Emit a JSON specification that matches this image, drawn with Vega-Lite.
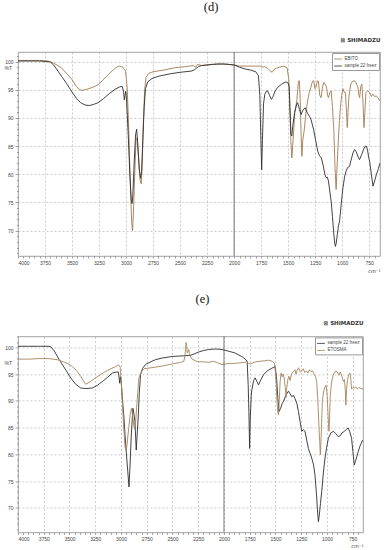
{
"$schema": "https://vega.github.io/schema/vega-lite/v6.json",
"background": "white",
"padding": {"left": 3, "top": 0, "right": 2, "bottom": 1},
"config": {"view": {"stroke": "#8a8a8a", "strokeWidth": 0.8}, "font": "Liberation Sans"},
"columns": 1, "align": "none", "bounds": "flush", "center": true, "spacing": 80.4,
"resolve": {"scale": {"color": "independent", "x": "independent", "y": "independent"}, "legend": {"color": "independent"}},
"datasets": {
"d": [
{"s":"EBITO","w":4000,"t":100.2},{"s":"EBITO","w":3900,"t":100.2},{"s":"EBITO","w":3800,"t":100.2},{"s":"EBITO","w":3720,"t":100.1},{"s":"EBITO","w":3680,"t":99.8},{"s":"EBITO","w":3640,"t":99.4},{"s":"EBITO","w":3600,"t":98.9},{"s":"EBITO","w":3550,"t":97.9},{"s":"EBITO","w":3500,"t":96.8},{"s":"EBITO","w":3460,"t":95.6},{"s":"EBITO","w":3430,"t":95.0},{"s":"EBITO","w":3400,"t":94.9},{"s":"EBITO","w":3360,"t":95.1},{"s":"EBITO","w":3300,"t":95.5},{"s":"EBITO","w":3260,"t":95.9},{"s":"EBITO","w":3220,"t":96.6},{"s":"EBITO","w":3170,"t":97.6},{"s":"EBITO","w":3120,"t":98.5},{"s":"EBITO","w":3080,"t":99.1},{"s":"EBITO","w":3060,"t":99.2},{"s":"EBITO","w":3030,"t":99.0},{"s":"EBITO","w":3005,"t":98.3},{"s":"EBITO","w":2990,"t":95.5},{"s":"EBITO","w":2975,"t":88},{"s":"EBITO","w":2960,"t":78},{"s":"EBITO","w":2948,"t":71.5},{"s":"EBITO","w":2940,"t":70.0},{"s":"EBITO","w":2932,"t":73},{"s":"EBITO","w":2920,"t":80},{"s":"EBITO","w":2908,"t":86},{"s":"EBITO","w":2898,"t":86.5},{"s":"EBITO","w":2885,"t":83},{"s":"EBITO","w":2870,"t":79},{"s":"EBITO","w":2860,"t":78.3},{"s":"EBITO","w":2852,"t":81},{"s":"EBITO","w":2840,"t":89},{"s":"EBITO","w":2828,"t":95},{"s":"EBITO","w":2815,"t":97.2},{"s":"EBITO","w":2790,"t":97.9},{"s":"EBITO","w":2750,"t":98.2},{"s":"EBITO","w":2650,"t":98.5},{"s":"EBITO","w":2550,"t":98.9},{"s":"EBITO","w":2450,"t":99.1},{"s":"EBITO","w":2380,"t":99.3},{"s":"EBITO","w":2355,"t":99.0},{"s":"EBITO","w":2340,"t":99.5},{"s":"EBITO","w":2300,"t":99.3},{"s":"EBITO","w":2250,"t":99.4},{"s":"EBITO","w":2200,"t":99.5},{"s":"EBITO","w":2150,"t":99.6},{"s":"EBITO","w":2100,"t":99.5},{"s":"EBITO","w":2050,"t":99.5},{"s":"EBITO","w":2000,"t":99.4},{"s":"EBITO","w":1950,"t":99.2},{"s":"EBITO","w":1900,"t":99.2},{"s":"EBITO","w":1850,"t":99.2},{"s":"EBITO","w":1800,"t":99.2},{"s":"EBITO","w":1760,"t":99.2},{"s":"EBITO","w":1740,"t":99.0},{"s":"EBITO","w":1720,"t":99.1},{"s":"EBITO","w":1690,"t":98.8},{"s":"EBITO","w":1670,"t":98.4},{"s":"EBITO","w":1648,"t":98.1},{"s":"EBITO","w":1630,"t":98.6},{"s":"EBITO","w":1610,"t":98.8},{"s":"EBITO","w":1580,"t":99.0},{"s":"EBITO","w":1540,"t":99.2},{"s":"EBITO","w":1510,"t":98.9},{"s":"EBITO","w":1495,"t":97},{"s":"EBITO","w":1485,"t":92},{"s":"EBITO","w":1475,"t":86},{"s":"EBITO","w":1466,"t":82.9},{"s":"EBITO","w":1458,"t":85},{"s":"EBITO","w":1448,"t":88},{"s":"EBITO","w":1438,"t":91},{"s":"EBITO","w":1420,"t":93},{"s":"EBITO","w":1405,"t":96.5},{"s":"EBITO","w":1396,"t":96.6},{"s":"EBITO","w":1388,"t":93},{"s":"EBITO","w":1380,"t":87},{"s":"EBITO","w":1373,"t":83.2},{"s":"EBITO","w":1365,"t":86},{"s":"EBITO","w":1350,"t":88},{"s":"EBITO","w":1335,"t":91},{"s":"EBITO","w":1320,"t":93},{"s":"EBITO","w":1305,"t":94.5},{"s":"EBITO","w":1290,"t":95.4},{"s":"EBITO","w":1275,"t":96.5},{"s":"EBITO","w":1263,"t":96.6},{"s":"EBITO","w":1252,"t":95.2},{"s":"EBITO","w":1242,"t":95.4},{"s":"EBITO","w":1230,"t":96.6},{"s":"EBITO","w":1220,"t":96.5},{"s":"EBITO","w":1207,"t":94},{"s":"EBITO","w":1195,"t":93.6},{"s":"EBITO","w":1182,"t":95.5},{"s":"EBITO","w":1170,"t":96.3},{"s":"EBITO","w":1158,"t":96},{"s":"EBITO","w":1145,"t":95.5},{"s":"EBITO","w":1135,"t":94},{"s":"EBITO","w":1127,"t":93.6},{"s":"EBITO","w":1115,"t":94.5},{"s":"EBITO","w":1102,"t":94.8},{"s":"EBITO","w":1090,"t":92},{"s":"EBITO","w":1077,"t":87.7},{"s":"EBITO","w":1066,"t":81},{"s":"EBITO","w":1056,"t":77.3},{"s":"EBITO","w":1046,"t":82},{"s":"EBITO","w":1034,"t":86.6},{"s":"EBITO","w":1025,"t":89.5},{"s":"EBITO","w":1016,"t":91.9},{"s":"EBITO","w":1005,"t":94},{"s":"EBITO","w":993,"t":95.2},{"s":"EBITO","w":980,"t":94.5},{"s":"EBITO","w":970,"t":94.5},{"s":"EBITO","w":960,"t":91},{"s":"EBITO","w":953,"t":88.3},{"s":"EBITO","w":946,"t":91},{"s":"EBITO","w":938,"t":93.6},{"s":"EBITO","w":925,"t":95.5},{"s":"EBITO","w":916,"t":96.3},{"s":"EBITO","w":900,"t":96.5},{"s":"EBITO","w":885,"t":96.6},{"s":"EBITO","w":870,"t":96.2},{"s":"EBITO","w":854,"t":95.4},{"s":"EBITO","w":845,"t":94},{"s":"EBITO","w":838,"t":93.6},{"s":"EBITO","w":828,"t":95.6},{"s":"EBITO","w":818,"t":96},{"s":"EBITO","w":808,"t":93},{"s":"EBITO","w":798,"t":88.3},{"s":"EBITO","w":790,"t":91},{"s":"EBITO","w":780,"t":94.5},{"s":"EBITO","w":765,"t":94.8},{"s":"EBITO","w":746,"t":94.5},{"s":"EBITO","w":730,"t":93.8},{"s":"EBITO","w":715,"t":94.2},{"s":"EBITO","w":700,"t":93.8},{"s":"EBITO","w":685,"t":93.9},{"s":"EBITO","w":668,"t":93.6},{"s":"EBITO","w":650,"t":93},
{"s":"sample 22 freez","w":4000,"t":100.1},{"s":"sample 22 freez","w":3900,"t":100.1},{"s":"sample 22 freez","w":3800,"t":100.1},{"s":"sample 22 freez","w":3730,"t":100.0},{"s":"sample 22 freez","w":3700,"t":99.9},{"s":"sample 22 freez","w":3670,"t":99.4},{"s":"sample 22 freez","w":3630,"t":98.3},{"s":"sample 22 freez","w":3590,"t":97.2},{"s":"sample 22 freez","w":3550,"t":96.1},{"s":"sample 22 freez","w":3500,"t":94.6},{"s":"sample 22 freez","w":3460,"t":93.5},{"s":"sample 22 freez","w":3420,"t":92.7},{"s":"sample 22 freez","w":3380,"t":92.3},{"s":"sample 22 freez","w":3340,"t":92.2},{"s":"sample 22 freez","w":3300,"t":92.4},{"s":"sample 22 freez","w":3260,"t":92.7},{"s":"sample 22 freez","w":3210,"t":93.4},{"s":"sample 22 freez","w":3150,"t":94.4},{"s":"sample 22 freez","w":3100,"t":95.1},{"s":"sample 22 freez","w":3060,"t":95.5},{"s":"sample 22 freez","w":3035,"t":95.6},{"s":"sample 22 freez","w":3022,"t":94.5},{"s":"sample 22 freez","w":3016,"t":93.2},{"s":"sample 22 freez","w":3010,"t":94.0},{"s":"sample 22 freez","w":3003,"t":94.7},{"s":"sample 22 freez","w":2995,"t":93},{"s":"sample 22 freez","w":2980,"t":87},{"s":"sample 22 freez","w":2965,"t":80},{"s":"sample 22 freez","w":2952,"t":75.5},{"s":"sample 22 freez","w":2945,"t":74.8},{"s":"sample 22 freez","w":2938,"t":76},{"s":"sample 22 freez","w":2925,"t":82},{"s":"sample 22 freez","w":2912,"t":87},{"s":"sample 22 freez","w":2902,"t":88},{"s":"sample 22 freez","w":2892,"t":85.5},{"s":"sample 22 freez","w":2878,"t":81},{"s":"sample 22 freez","w":2866,"t":79.3},{"s":"sample 22 freez","w":2856,"t":80.5},{"s":"sample 22 freez","w":2845,"t":86},{"s":"sample 22 freez","w":2832,"t":92},{"s":"sample 22 freez","w":2820,"t":95.2},{"s":"sample 22 freez","w":2800,"t":96.4},{"s":"sample 22 freez","w":2760,"t":97.0},{"s":"sample 22 freez","w":2700,"t":97.4},{"s":"sample 22 freez","w":2600,"t":97.8},{"s":"sample 22 freez","w":2500,"t":98.1},{"s":"sample 22 freez","w":2400,"t":98.3},{"s":"sample 22 freez","w":2370,"t":98.5},{"s":"sample 22 freez","w":2350,"t":98.8},{"s":"sample 22 freez","w":2330,"t":99.1},{"s":"sample 22 freez","w":2300,"t":99.3},{"s":"sample 22 freez","w":2200,"t":99.5},{"s":"sample 22 freez","w":2100,"t":99.6},{"s":"sample 22 freez","w":2050,"t":99.5},{"s":"sample 22 freez","w":2000,"t":99.4},{"s":"sample 22 freez","w":1950,"t":99.0},{"s":"sample 22 freez","w":1900,"t":98.7},{"s":"sample 22 freez","w":1850,"t":98.5},{"s":"sample 22 freez","w":1800,"t":98.2},{"s":"sample 22 freez","w":1775,"t":97.5},{"s":"sample 22 freez","w":1762,"t":94},{"s":"sample 22 freez","w":1752,"t":86},{"s":"sample 22 freez","w":1745,"t":80.8},{"s":"sample 22 freez","w":1738,"t":86},{"s":"sample 22 freez","w":1728,"t":92.5},{"s":"sample 22 freez","w":1716,"t":94.2},{"s":"sample 22 freez","w":1700,"t":94.8},{"s":"sample 22 freez","w":1690,"t":94.8},{"s":"sample 22 freez","w":1672,"t":94},{"s":"sample 22 freez","w":1655,"t":93.3},{"s":"sample 22 freez","w":1640,"t":93.8},{"s":"sample 22 freez","w":1620,"t":94.8},{"s":"sample 22 freez","w":1598,"t":95.4},{"s":"sample 22 freez","w":1560,"t":96.0},{"s":"sample 22 freez","w":1521,"t":96.4},{"s":"sample 22 freez","w":1500,"t":96.2},{"s":"sample 22 freez","w":1490,"t":95.5},{"s":"sample 22 freez","w":1482,"t":91},{"s":"sample 22 freez","w":1474,"t":87.1},{"s":"sample 22 freez","w":1466,"t":86.8},{"s":"sample 22 freez","w":1458,"t":88.5},{"s":"sample 22 freez","w":1440,"t":91},{"s":"sample 22 freez","w":1420,"t":92.5},{"s":"sample 22 freez","w":1412,"t":92.7},{"s":"sample 22 freez","w":1395,"t":91.5},{"s":"sample 22 freez","w":1381,"t":90.6},{"s":"sample 22 freez","w":1365,"t":91.3},{"s":"sample 22 freez","w":1344,"t":91.8},{"s":"sample 22 freez","w":1320,"t":90.8},{"s":"sample 22 freez","w":1300,"t":90.2},{"s":"sample 22 freez","w":1288,"t":89.7},{"s":"sample 22 freez","w":1265,"t":88},{"s":"sample 22 freez","w":1245,"t":86},{"s":"sample 22 freez","w":1226,"t":84.1},{"s":"sample 22 freez","w":1210,"t":83.3},{"s":"sample 22 freez","w":1193,"t":82.9},{"s":"sample 22 freez","w":1175,"t":81.5},{"s":"sample 22 freez","w":1160,"t":80},{"s":"sample 22 freez","w":1149,"t":79.4},{"s":"sample 22 freez","w":1138,"t":79.5},{"s":"sample 22 freez","w":1127,"t":78.8},{"s":"sample 22 freez","w":1115,"t":77},{"s":"sample 22 freez","w":1102,"t":75.2},{"s":"sample 22 freez","w":1090,"t":72.5},{"s":"sample 22 freez","w":1078,"t":69.5},{"s":"sample 22 freez","w":1068,"t":67.6},{"s":"sample 22 freez","w":1062,"t":67.2},{"s":"sample 22 freez","w":1055,"t":67.8},{"s":"sample 22 freez","w":1045,"t":69.3},{"s":"sample 22 freez","w":1035,"t":70.8},{"s":"sample 22 freez","w":1024,"t":71.7},{"s":"sample 22 freez","w":1010,"t":74.5},{"s":"sample 22 freez","w":993,"t":77.6},{"s":"sample 22 freez","w":978,"t":79.5},{"s":"sample 22 freez","w":963,"t":80.6},{"s":"sample 22 freez","w":950,"t":81.2},{"s":"sample 22 freez","w":932,"t":81.4},{"s":"sample 22 freez","w":918,"t":82.5},{"s":"sample 22 freez","w":900,"t":83.8},{"s":"sample 22 freez","w":885,"t":84.4},{"s":"sample 22 freez","w":870,"t":84.0},{"s":"sample 22 freez","w":855,"t":83.2},{"s":"sample 22 freez","w":839,"t":82.6},{"s":"sample 22 freez","w":820,"t":83.5},{"s":"sample 22 freez","w":800,"t":84.5},{"s":"sample 22 freez","w":785,"t":85.0},{"s":"sample 22 freez","w":777,"t":85},{"s":"sample 22 freez","w":765,"t":84.3},{"s":"sample 22 freez","w":755,"t":83},{"s":"sample 22 freez","w":746,"t":82.3},{"s":"sample 22 freez","w":730,"t":80},{"s":"sample 22 freez","w":715,"t":77.9},{"s":"sample 22 freez","w":700,"t":78.8},{"s":"sample 22 freez","w":684,"t":79.9},{"s":"sample 22 freez","w":665,"t":81},{"s":"sample 22 freez","w":650,"t":82}
],
"e": [
{"s":"sample 22 freez","w":4000,"t":100.2},{"s":"sample 22 freez","w":3900,"t":100.2},{"s":"sample 22 freez","w":3800,"t":100.2},{"s":"sample 22 freez","w":3700,"t":100.2},{"s":"sample 22 freez","w":3680,"t":100.1},{"s":"sample 22 freez","w":3650,"t":99.4},{"s":"sample 22 freez","w":3600,"t":97.7},{"s":"sample 22 freez","w":3540,"t":95.9},{"s":"sample 22 freez","w":3488,"t":94.3},{"s":"sample 22 freez","w":3440,"t":93.1},{"s":"sample 22 freez","w":3391,"t":92.4},{"s":"sample 22 freez","w":3340,"t":92.3},{"s":"sample 22 freez","w":3278,"t":92.4},{"s":"sample 22 freez","w":3230,"t":92.9},{"s":"sample 22 freez","w":3181,"t":93.6},{"s":"sample 22 freez","w":3130,"t":94.4},{"s":"sample 22 freez","w":3084,"t":95.2},{"s":"sample 22 freez","w":3040,"t":95.4},{"s":"sample 22 freez","w":3026,"t":95.4},{"s":"sample 22 freez","w":3018,"t":94.3},{"s":"sample 22 freez","w":3013,"t":93.3},{"s":"sample 22 freez","w":3006,"t":94.5},{"s":"sample 22 freez","w":2998,"t":93.5},{"s":"sample 22 freez","w":2985,"t":90},{"s":"sample 22 freez","w":2971,"t":86.8},{"s":"sample 22 freez","w":2960,"t":83.5},{"s":"sample 22 freez","w":2949,"t":80.5},{"s":"sample 22 freez","w":2935,"t":77},{"s":"sample 22 freez","w":2922,"t":73.9},{"s":"sample 22 freez","w":2912,"t":78},{"s":"sample 22 freez","w":2900,"t":83.6},{"s":"sample 22 freez","w":2884,"t":88.6},{"s":"sample 22 freez","w":2874,"t":87.5},{"s":"sample 22 freez","w":2865,"t":86.1},{"s":"sample 22 freez","w":2857,"t":83},{"s":"sample 22 freez","w":2852,"t":80.8},{"s":"sample 22 freez","w":2845,"t":83},{"s":"sample 22 freez","w":2833,"t":86.8},{"s":"sample 22 freez","w":2822,"t":91.5},{"s":"sample 22 freez","w":2810,"t":94.9},{"s":"sample 22 freez","w":2790,"t":96.1},{"s":"sample 22 freez","w":2762,"t":96.8},{"s":"sample 22 freez","w":2700,"t":97.4},{"s":"sample 22 freez","w":2665,"t":97.7},{"s":"sample 22 freez","w":2600,"t":98.0},{"s":"sample 22 freez","w":2503,"t":98.3},{"s":"sample 22 freez","w":2407,"t":98.4},{"s":"sample 22 freez","w":2330,"t":98.5},{"s":"sample 22 freez","w":2310,"t":98.6},{"s":"sample 22 freez","w":2250,"t":99.1},{"s":"sample 22 freez","w":2200,"t":99.4},{"s":"sample 22 freez","w":2148,"t":99.6},{"s":"sample 22 freez","w":2080,"t":99.7},{"s":"sample 22 freez","w":2019,"t":99.6},{"s":"sample 22 freez","w":1960,"t":99.3},{"s":"sample 22 freez","w":1900,"t":99.0},{"s":"sample 22 freez","w":1858,"t":98.6},{"s":"sample 22 freez","w":1820,"t":98.2},{"s":"sample 22 freez","w":1794,"t":97.8},{"s":"sample 22 freez","w":1775,"t":97.4},{"s":"sample 22 freez","w":1765,"t":93},{"s":"sample 22 freez","w":1758,"t":88},{"s":"sample 22 freez","w":1751,"t":81.1},{"s":"sample 22 freez","w":1744,"t":87},{"s":"sample 22 freez","w":1735,"t":91},{"s":"sample 22 freez","w":1729,"t":92.1},{"s":"sample 22 freez","w":1712,"t":93.8},{"s":"sample 22 freez","w":1697,"t":94.3},{"s":"sample 22 freez","w":1680,"t":93.6},{"s":"sample 22 freez","w":1664,"t":93.0},{"s":"sample 22 freez","w":1640,"t":94.0},{"s":"sample 22 freez","w":1616,"t":94.9},{"s":"sample 22 freez","w":1580,"t":95.6},{"s":"sample 22 freez","w":1535,"t":96.1},{"s":"sample 22 freez","w":1503,"t":96.4},{"s":"sample 22 freez","w":1490,"t":94.5},{"s":"sample 22 freez","w":1477,"t":90.5},{"s":"sample 22 freez","w":1465,"t":88},{"s":"sample 22 freez","w":1450,"t":88.6},{"s":"sample 22 freez","w":1435,"t":89.5},{"s":"sample 22 freez","w":1422,"t":89.9},{"s":"sample 22 freez","w":1400,"t":91},{"s":"sample 22 freez","w":1374,"t":91.8},{"s":"sample 22 freez","w":1360,"t":91.4},{"s":"sample 22 freez","w":1342,"t":90.8},{"s":"sample 22 freez","w":1325,"t":91},{"s":"sample 22 freez","w":1310,"t":90.4},{"s":"sample 22 freez","w":1292,"t":89.5},{"s":"sample 22 freez","w":1277,"t":88},{"s":"sample 22 freez","w":1260,"t":86},{"s":"sample 22 freez","w":1245,"t":84.3},{"s":"sample 22 freez","w":1230,"t":84.6},{"s":"sample 22 freez","w":1213,"t":84.3},{"s":"sample 22 freez","w":1195,"t":82.5},{"s":"sample 22 freez","w":1180,"t":81.1},{"s":"sample 22 freez","w":1165,"t":80.2},{"s":"sample 22 freez","w":1148,"t":79.3},{"s":"sample 22 freez","w":1130,"t":78},{"s":"sample 22 freez","w":1116,"t":76.1},{"s":"sample 22 freez","w":1100,"t":72},{"s":"sample 22 freez","w":1090,"t":69},{"s":"sample 22 freez","w":1083,"t":67.4},{"s":"sample 22 freez","w":1075,"t":68.5},{"s":"sample 22 freez","w":1063,"t":70.8},{"s":"sample 22 freez","w":1051,"t":73},{"s":"sample 22 freez","w":1035,"t":76.5},{"s":"sample 22 freez","w":1019,"t":79.3},{"s":"sample 22 freez","w":1003,"t":81.3},{"s":"sample 22 freez","w":986,"t":83.0},{"s":"sample 22 freez","w":962,"t":84.0},{"s":"sample 22 freez","w":938,"t":84.3},{"s":"sample 22 freez","w":915,"t":83.9},{"s":"sample 22 freez","w":890,"t":83.3},{"s":"sample 22 freez","w":870,"t":83.5},{"s":"sample 22 freez","w":855,"t":84.0},{"s":"sample 22 freez","w":830,"t":84.3},{"s":"sample 22 freez","w":810,"t":84.7},{"s":"sample 22 freez","w":793,"t":84.9},{"s":"sample 22 freez","w":778,"t":84.2},{"s":"sample 22 freez","w":761,"t":83.0},{"s":"sample 22 freez","w":748,"t":80.5},{"s":"sample 22 freez","w":735,"t":78.0},{"s":"sample 22 freez","w":722,"t":78.8},{"s":"sample 22 freez","w":710,"t":79.6},{"s":"sample 22 freez","w":696,"t":80.5},{"s":"sample 22 freez","w":680,"t":81.5},{"s":"sample 22 freez","w":657,"t":82.5},{"s":"sample 22 freez","w":650,"t":82.7},
{"s":"ETOSMA","w":4000,"t":97.8},{"s":"ETOSMA","w":3900,"t":97.8},{"s":"ETOSMA","w":3800,"t":97.9},{"s":"ETOSMA","w":3700,"t":97.9},{"s":"ETOSMA","w":3620,"t":97.7},{"s":"ETOSMA","w":3560,"t":97.3},{"s":"ETOSMA","w":3510,"t":96.9},{"s":"ETOSMA","w":3471,"t":96.4},{"s":"ETOSMA","w":3430,"t":95.6},{"s":"ETOSMA","w":3391,"t":94.6},{"s":"ETOSMA","w":3360,"t":93.6},{"s":"ETOSMA","w":3343,"t":93.1},{"s":"ETOSMA","w":3320,"t":93.3},{"s":"ETOSMA","w":3290,"t":93.7},{"s":"ETOSMA","w":3246,"t":94.3},{"s":"ETOSMA","w":3200,"t":94.9},{"s":"ETOSMA","w":3149,"t":95.5},{"s":"ETOSMA","w":3100,"t":96.0},{"s":"ETOSMA","w":3052,"t":96.4},{"s":"ETOSMA","w":3025,"t":96.7},{"s":"ETOSMA","w":3010,"t":96.5},{"s":"ETOSMA","w":2998,"t":94},{"s":"ETOSMA","w":2987,"t":89.9},{"s":"ETOSMA","w":2975,"t":85.5},{"s":"ETOSMA","w":2961,"t":81.5},{"s":"ETOSMA","w":2950,"t":80.6},{"s":"ETOSMA","w":2940,"t":82},{"s":"ETOSMA","w":2925,"t":85},{"s":"ETOSMA","w":2910,"t":87.5},{"s":"ETOSMA","w":2898,"t":88.6},{"s":"ETOSMA","w":2888,"t":87.5},{"s":"ETOSMA","w":2878,"t":85.6},{"s":"ETOSMA","w":2868,"t":84.7},{"s":"ETOSMA","w":2858,"t":86},{"s":"ETOSMA","w":2845,"t":89.5},{"s":"ETOSMA","w":2826,"t":94.3},{"s":"ETOSMA","w":2800,"t":95.5},{"s":"ETOSMA","w":2777,"t":96.0},{"s":"ETOSMA","w":2700,"t":96.2},{"s":"ETOSMA","w":2600,"t":96.5},{"s":"ETOSMA","w":2503,"t":96.9},{"s":"ETOSMA","w":2420,"t":97.2},{"s":"ETOSMA","w":2390,"t":97.4},{"s":"ETOSMA","w":2378,"t":98.5},{"s":"ETOSMA","w":2368,"t":100.9},{"s":"ETOSMA","w":2362,"t":100.3},{"s":"ETOSMA","w":2356,"t":99.0},{"s":"ETOSMA","w":2349,"t":99.2},{"s":"ETOSMA","w":2343,"t":99.6},{"s":"ETOSMA","w":2335,"t":98.8},{"s":"ETOSMA","w":2320,"t":98.1},{"s":"ETOSMA","w":2310,"t":97.8},{"s":"ETOSMA","w":2280,"t":97.5},{"s":"ETOSMA","w":2250,"t":97.3},{"s":"ETOSMA","w":2200,"t":97.3},{"s":"ETOSMA","w":2150,"t":97.2},{"s":"ETOSMA","w":2100,"t":97.4},{"s":"ETOSMA","w":2060,"t":97.1},{"s":"ETOSMA","w":2020,"t":96.8},{"s":"ETOSMA","w":1980,"t":96.9},{"s":"ETOSMA","w":1940,"t":97.0},{"s":"ETOSMA","w":1900,"t":97.0},{"s":"ETOSMA","w":1850,"t":97.1},{"s":"ETOSMA","w":1800,"t":97.2},{"s":"ETOSMA","w":1780,"t":97.3},{"s":"ETOSMA","w":1760,"t":97.0},{"s":"ETOSMA","w":1740,"t":96.9},{"s":"ETOSMA","w":1720,"t":97.1},{"s":"ETOSMA","w":1690,"t":97.3},{"s":"ETOSMA","w":1650,"t":97.4},{"s":"ETOSMA","w":1600,"t":97.5},{"s":"ETOSMA","w":1567,"t":97.6},{"s":"ETOSMA","w":1530,"t":97.4},{"s":"ETOSMA","w":1510,"t":97.0},{"s":"ETOSMA","w":1500,"t":95.5},{"s":"ETOSMA","w":1494,"t":93.6},{"s":"ETOSMA","w":1485,"t":90},{"s":"ETOSMA","w":1478,"t":88},{"s":"ETOSMA","w":1471,"t":87.4},{"s":"ETOSMA","w":1463,"t":90},{"s":"ETOSMA","w":1455,"t":93.6},{"s":"ETOSMA","w":1445,"t":95.2},{"s":"ETOSMA","w":1435,"t":94.5},{"s":"ETOSMA","w":1425,"t":95},{"s":"ETOSMA","w":1415,"t":94.3},{"s":"ETOSMA","w":1405,"t":92.5},{"s":"ETOSMA","w":1397,"t":90.6},{"s":"ETOSMA","w":1390,"t":92.5},{"s":"ETOSMA","w":1380,"t":94},{"s":"ETOSMA","w":1370,"t":94.6},{"s":"ETOSMA","w":1358,"t":93.8},{"s":"ETOSMA","w":1345,"t":95},{"s":"ETOSMA","w":1325,"t":95.5},{"s":"ETOSMA","w":1310,"t":95.8},{"s":"ETOSMA","w":1300,"t":95},{"s":"ETOSMA","w":1290,"t":95.7},{"s":"ETOSMA","w":1275,"t":96.2},{"s":"ETOSMA","w":1260,"t":95.4},{"s":"ETOSMA","w":1245,"t":95.6},{"s":"ETOSMA","w":1230,"t":96.0},{"s":"ETOSMA","w":1215,"t":95.3},{"s":"ETOSMA","w":1200,"t":95.6},{"s":"ETOSMA","w":1185,"t":95.2},{"s":"ETOSMA","w":1170,"t":95.8},{"s":"ETOSMA","w":1155,"t":95.5},{"s":"ETOSMA","w":1140,"t":95.6},{"s":"ETOSMA","w":1125,"t":95},{"s":"ETOSMA","w":1110,"t":94.5},{"s":"ETOSMA","w":1100,"t":93.6},{"s":"ETOSMA","w":1090,"t":90.6},{"s":"ETOSMA","w":1077,"t":85},{"s":"ETOSMA","w":1064,"t":79.9},{"s":"ETOSMA","w":1055,"t":84},{"s":"ETOSMA","w":1045,"t":89.9},{"s":"ETOSMA","w":1030,"t":92},{"s":"ETOSMA","w":1019,"t":92.6},{"s":"ETOSMA","w":1008,"t":92.9},{"s":"ETOSMA","w":998,"t":91},{"s":"ETOSMA","w":986,"t":86},{"s":"ETOSMA","w":981,"t":84.3},{"s":"ETOSMA","w":976,"t":86},{"s":"ETOSMA","w":968,"t":91},{"s":"ETOSMA","w":955,"t":93.5},{"s":"ETOSMA","w":940,"t":94.8},{"s":"ETOSMA","w":928,"t":95.2},{"s":"ETOSMA","w":915,"t":95.6},{"s":"ETOSMA","w":900,"t":95.4},{"s":"ETOSMA","w":885,"t":94.8},{"s":"ETOSMA","w":870,"t":95.4},{"s":"ETOSMA","w":855,"t":94.6},{"s":"ETOSMA","w":840,"t":93.6},{"s":"ETOSMA","w":830,"t":94},{"s":"ETOSMA","w":822,"t":92},{"s":"ETOSMA","w":816,"t":89.2},{"s":"ETOSMA","w":810,"t":92},{"s":"ETOSMA","w":800,"t":94},{"s":"ETOSMA","w":790,"t":94.8},{"s":"ETOSMA","w":777,"t":95.2},{"s":"ETOSMA","w":768,"t":94},{"s":"ETOSMA","w":761,"t":92.2},{"s":"ETOSMA","w":750,"t":92.5},{"s":"ETOSMA","w":735,"t":92.4},{"s":"ETOSMA","w":720,"t":92.6},{"s":"ETOSMA","w":705,"t":92.2},{"s":"ETOSMA","w":690,"t":92.5},{"s":"ETOSMA","w":670,"t":92.3},{"s":"ETOSMA","w":650,"t":92.2}
]
},
"concat": [
{
 "width": 362, "height": 204,
 "title": {"text": "(d)", "font": "Liberation Serif", "fontSize": 12.5, "fontWeight": "normal", "color": "#111", "anchor": "middle", "frame": "group", "dx": 12, "offset": 24},
 "layer": [
  {"data": {"name": "d"}, "mark": {"type": "line", "strokeWidth": 0.9, "clip": true},
   "encoding": {
    "x": {"field": "w", "type": "quantitative", "scale": {"domain": [4000, 650], "nice": false, "zero": false},
     "axis": {"orient": "bottom", "values": [4000,3950,3900,3850,3800,3750,3700,3650,3600,3550,3500,3450,3400,3350,3300,3250,3200,3150,3100,3050,3000,2950,2900,2850,2800,2750,2700,2650,2600,2550,2500,2450,2400,2350,2300,2250,2200,2150,2100,2050,2000,1950,1900,1850,1800,1750,1700,1650,1600,1550,1500,1450,1400,1350,1300,1250,1200,1150,1100,1050,1000,950,900,850,800,750,700],
      "format": "d", "labelExpr": "datum.value % 250 === 0 ? datum.label : ''", "labelOverlap": false, "labelFontSize": 5, "labelColor": "#444", "labelPadding": 2,
      "grid": true, "gridDash": [2, 2], "gridColor": "#aaa", "gridWidth": 0.6,
      "gridOpacity": {"condition": {"test": "datum.value % 250 === 0", "value": 1}, "value": 0},
      "tickSize": 2, "tickColor": "#666", "tickWidth": 0.6, "domain": false,
      "title": "cm⁻¹", "titleFont": "DejaVu Sans", "titleFontSize": 5, "titleFontStyle": "italic", "titleFontWeight": "normal", "titleColor": "#444", "titleAnchor": "end", "titlePadding": 3}},
    "y": {"field": "t", "type": "quantitative", "scale": {"domain": [65.5, 101.7], "nice": false, "zero": false},
     "axis": {"values": [66,67,68,69,70,71,72,73,74,75,76,77,78,79,80,81,82,83,84,85,86,87,88,89,90,91,92,93,94,95,96,97,98,99,100,101],
      "labelExpr": "datum.value % 5 === 0 ? datum.label : ''", "labelOverlap": false, "labelFontSize": 5, "labelColor": "#444", "labelPadding": 2,
      "grid": true, "gridDash": [2, 2], "gridColor": "#aaa", "gridWidth": 0.6,
      "gridOpacity": {"condition": {"test": "datum.value % 5 === 0", "value": 1}, "value": 0},
      "tickSize": {"condition": {"test": "datum.value % 5 === 0", "value": 3}, "value": 1.5}, "tickColor": "#666", "tickWidth": 0.6, "domain": false,
      "title": "%T", "titleAngle": 0, "titleFontSize": 5, "titleFontWeight": "normal", "titleColor": "#444", "titleAlign": "left", "titleBaseline": "middle", "titleX": -14, "titleY": 15.5}},
    "color": {"field": "s", "type": "nominal", "scale": {"domain": ["EBITO", "sample 22 freez"], "range": ["#a27a52", "#2e2e2e"]},
     "legend": {"orient": "top-right", "offset": 1, "title": null, "symbolType": "stroke", "symbolSize": 60, "symbolStrokeWidth": 0.8, "labelFontSize": 4.5, "labelColor": "#444", "rowPadding": 0, "padding": 1.5, "strokeColor": "#999", "fillColor": "white", "labelOffset": 2}}
   }},
  {"data": {"values": [{"w": 2000}]}, "mark": {"type": "rule", "color": "#555", "strokeWidth": 0.8},
   "encoding": {"x": {"field": "w", "type": "quantitative",
    "axis": {"orient": "top", "labels": false, "ticks": false, "domain": false, "grid": false, "title": "⊠ SHIMADZU", "titleFont": "DejaVu Sans", "titleFontSize": 5.5, "titleFontWeight": "bold", "titleColor": "#333", "titleAnchor": "end", "titlePadding": 9.5}}}}
 ],
 "resolve": {"axis": {"x": "independent"}}
},
{
 "width": 345, "height": 196,
 "title": {"text": "(e)", "font": "Liberation Serif", "fontSize": 12.5, "fontWeight": "normal", "color": "#111", "anchor": "middle", "frame": "group", "dx": 12, "offset": 15},
 "layer": [
  {"data": {"name": "e"}, "mark": {"type": "line", "strokeWidth": 0.9, "clip": true},
   "encoding": {
    "x": {"field": "w", "type": "quantitative", "scale": {"domain": [4000, 650], "nice": false, "zero": false},
     "axis": {"orient": "bottom", "values": [4000,3950,3900,3850,3800,3750,3700,3650,3600,3550,3500,3450,3400,3350,3300,3250,3200,3150,3100,3050,3000,2950,2900,2850,2800,2750,2700,2650,2600,2550,2500,2450,2400,2350,2300,2250,2200,2150,2100,2050,2000,1950,1900,1850,1800,1750,1700,1650,1600,1550,1500,1450,1400,1350,1300,1250,1200,1150,1100,1050,1000,950,900,850,800,750,700],
      "format": "d", "labelExpr": "datum.value % 250 === 0 ? datum.label : ''", "labelOverlap": false, "labelFontSize": 5, "labelColor": "#444", "labelPadding": 2,
      "grid": true, "gridDash": [2, 2], "gridColor": "#aaa", "gridWidth": 0.6,
      "gridOpacity": {"condition": {"test": "datum.value % 250 === 0", "value": 1}, "value": 0},
      "tickSize": 2, "tickColor": "#666", "tickWidth": 0.6, "domain": false,
      "title": "cm⁻¹", "titleFont": "DejaVu Sans", "titleFontSize": 5, "titleFontStyle": "italic", "titleFontWeight": "normal", "titleColor": "#444", "titleAnchor": "end", "titlePadding": 2}},
    "y": {"field": "t", "type": "quantitative", "scale": {"domain": [65.4, 102.05], "nice": false, "zero": false},
     "axis": {"values": [66,67,68,69,70,71,72,73,74,75,76,77,78,79,80,81,82,83,84,85,86,87,88,89,90,91,92,93,94,95,96,97,98,99,100,101,102],
      "labelExpr": "datum.value % 5 === 0 ? datum.label : ''", "labelOverlap": false, "labelFontSize": 5, "labelColor": "#444", "labelPadding": 2,
      "grid": true, "gridDash": [2, 2], "gridColor": "#aaa", "gridWidth": 0.6,
      "gridOpacity": {"condition": {"test": "datum.value % 5 === 0", "value": 1}, "value": 0},
      "tickSize": {"condition": {"test": "datum.value % 5 === 0", "value": 3}, "value": 1.5}, "tickColor": "#666", "tickWidth": 0.6, "domain": false,
      "title": "%T", "titleAngle": 0, "titleFontSize": 5, "titleFontWeight": "normal", "titleColor": "#444", "titleAlign": "left", "titleBaseline": "middle", "titleX": -14, "titleY": 26}},
    "color": {"field": "s", "type": "nominal", "scale": {"domain": ["sample 22 freez", "ETOSMA"], "range": ["#2e2e2e", "#a6845e"]},
     "legend": {"orient": "top-right", "offset": 1, "title": null, "symbolType": "stroke", "symbolSize": 60, "symbolStrokeWidth": 0.8, "labelFontSize": 4.5, "labelColor": "#444", "rowPadding": 0, "padding": 1.5, "strokeColor": "#999", "fillColor": "white", "labelOffset": 2}}
   }},
  {"data": {"values": [{"w": 2000}]}, "mark": {"type": "rule", "color": "#555", "strokeWidth": 0.8},
   "encoding": {"x": {"field": "w", "type": "quantitative",
    "axis": {"orient": "top", "labels": false, "ticks": false, "domain": false, "grid": false, "title": "⊠ SHIMADZU", "titleFont": "DejaVu Sans", "titleFontSize": 5.5, "titleFontWeight": "bold", "titleColor": "#333", "titleAnchor": "end", "titlePadding": 11}}}}
 ],
 "resolve": {"axis": {"x": "independent"}}
}
]
}
